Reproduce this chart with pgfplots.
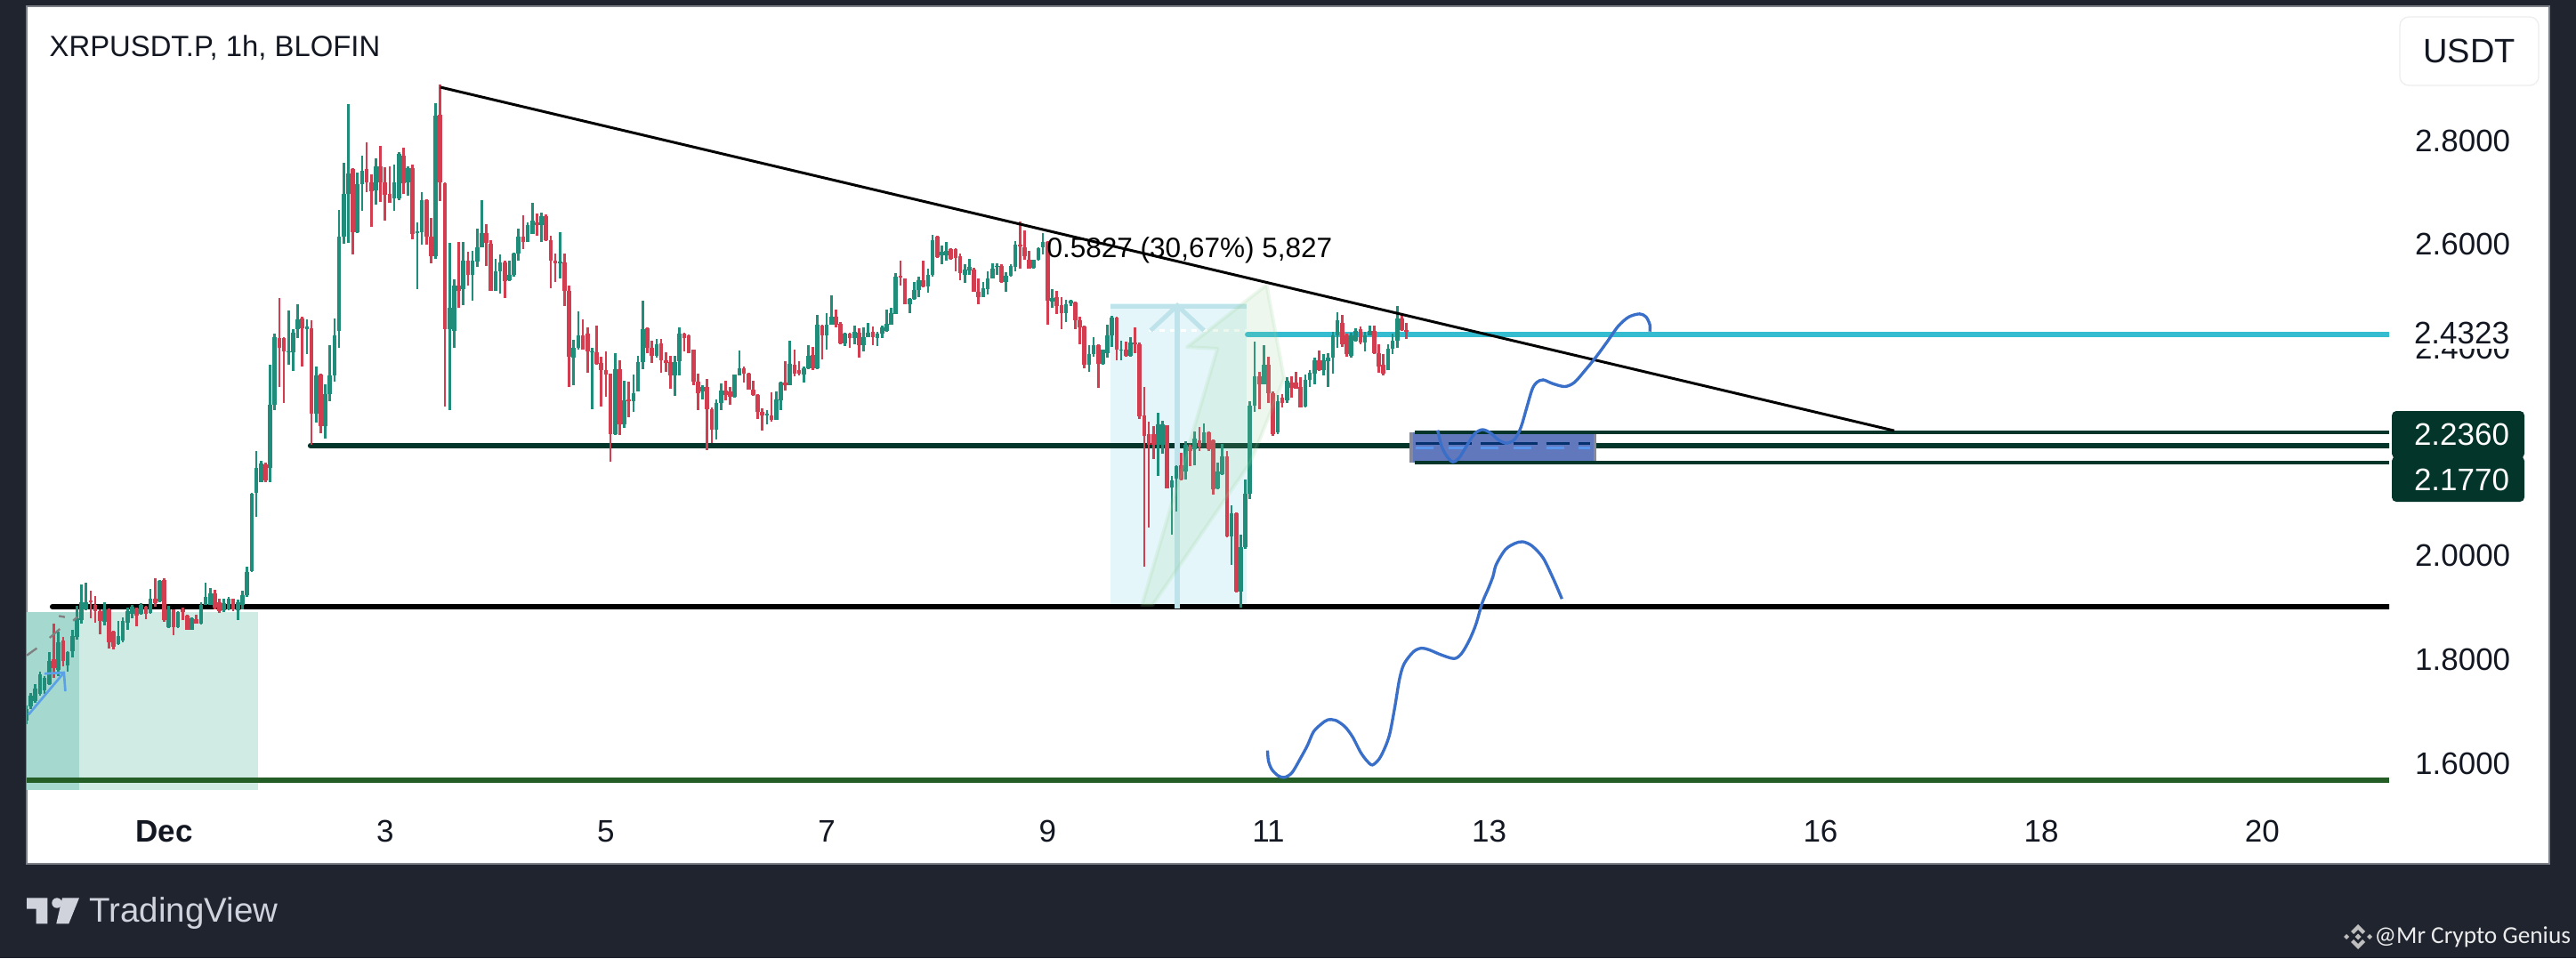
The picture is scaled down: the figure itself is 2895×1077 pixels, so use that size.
\documentclass[border=0pt]{standalone}
\usepackage{fontspec}
\setmainfont{Liberation Sans}
\usepackage{pgfplots}
\usepackage{pgfplotstable}
\pgfplotsset{compat=1.18}
\newfontfamily\wmfont{Carlito}
\definecolor{cg}{RGB}{32,140,122}
\definecolor{cr}{RGB}{210,62,80}
\definecolor{dk}{RGB}{31,36,47}
\definecolor{lv}{RGB}{3,53,42}
\definecolor{txt}{RGB}{19,23,34}
\definecolor{blu}{RGB}{58,111,201}
\definecolor{cya}{RGB}{54,188,208}
\definecolor{edge}{RGB}{125,128,135}
\definecolor{tealA}{RGB}{207,235,227}
\definecolor{tealB}{RGB}{165,216,206}
\definecolor{iceA}{RGB}{228,246,250}
\definecolor{iceB}{RGB}{190,227,234}
\definecolor{sk}{RGB}{150,210,150}
\definecolor{arr}{RGB}{91,161,232}
\definecolor{zone}{RGB}{98,120,188}
\definecolor{zoneE}{RGB}{135,138,150}
\definecolor{navy}{RGB}{5,50,110}
\definecolor{dsh}{RGB}{90,150,235}
\definecolor{btn}{RGB}{238,238,238}
\definecolor{wm}{RGB}{235,235,235}
\definecolor{grn}{RGB}{36,94,38}
\pgfplotstableread{
h lo hi op cl
-30 1.674 1.709 1.681 1.703
-29 1.703 1.733 1.708 1.729
-28 1.714 1.750 1.718 1.743
-27 1.729 1.775 1.732 1.769
-26 1.732 1.766 1.738 1.762
-25 1.749 1.812 1.750 1.795
-24 1.762 1.867 1.798 1.781
-23 1.766 1.852 1.778 1.832
-22 1.785 1.842 1.835 1.795
-21 1.774 1.815 1.786 1.812
-20 1.803 1.855 1.815 1.843
-19 1.837 1.902 1.841 1.878
-18 1.868 1.943 1.875 1.909
-17 1.893 1.946 1.895 1.909
-16 1.878 1.931 1.912 1.909
-15 1.869 1.920 1.903 1.892
-14 1.847 1.895 1.892 1.872
-13 1.864 1.908 1.870 1.895
-12 1.820 1.896 1.895 1.832
-11 1.817 1.853 1.852 1.823
-10 1.826 1.872 1.828 1.843
-9 1.832 1.880 1.835 1.872
-8 1.855 1.898 1.869 1.892
-7 1.878 1.904 1.886 1.900
-6 1.862 1.898 1.896 1.883
-5 1.885 1.906 1.886 1.904
-4 1.876 1.902 1.900 1.886
-3 1.887 1.935 1.888 1.916
-2 1.900 1.955 1.916 1.906
-1 1.909 1.951 1.910 1.950
0 1.870 1.955 1.952 1.875
1 1.859 1.902 1.860 1.895
2 1.845 1.895 1.894 1.860
3 1.859 1.891 1.860 1.889
4 1.875 1.899 1.895 1.889
5 1.855 1.884 1.883 1.855
6 1.855 1.880 1.856 1.878
7 1.867 1.884 1.876 1.868
8 1.866 1.908 1.868 1.903
9 1.903 1.946 1.904 1.918
10 1.903 1.936 1.904 1.926
11 1.895 1.932 1.926 1.898
12 1.888 1.916 1.909 1.891
13 1.889 1.916 1.893 1.906
14 1.893 1.918 1.895 1.916
15 1.892 1.915 1.915 1.895
16 1.875 1.913 1.893 1.909
17 1.895 1.931 1.903 1.923
18 1.919 1.977 1.923 1.966
19 1.967 2.120 1.969 2.118
20 2.073 2.200 2.120 2.167
21 2.139 2.181 2.140 2.176
22 2.139 2.178 2.174 2.143
23 2.140 2.366 2.167 2.289
24 2.279 2.426 2.289 2.419
25 2.323 2.495 2.418 2.398
26 2.292 2.419 2.418 2.392
27 2.366 2.470 2.390 2.392
28 2.354 2.434 2.390 2.428
29 2.418 2.482 2.435 2.453
30 2.362 2.458 2.456 2.436
31 2.386 2.453 2.435 2.439
32 2.212 2.451 2.436 2.272
33 2.255 2.362 2.272 2.346
34 2.234 2.349 2.347 2.248
35 2.224 2.328 2.248 2.309
36 2.295 2.403 2.310 2.345
37 2.333 2.455 2.346 2.423
38 2.398 2.665 2.432 2.612
39 2.600 2.755 2.612 2.695
40 2.600 2.868 2.695 2.735
41 2.579 2.744 2.743 2.622
42 2.619 2.737 2.622 2.714
43 2.662 2.769 2.714 2.740
44 2.699 2.795 2.743 2.717
45 2.632 2.732 2.717 2.700
46 2.675 2.763 2.702 2.749
47 2.679 2.788 2.749 2.717
48 2.644 2.746 2.717 2.693
49 2.678 2.749 2.695 2.678
50 2.663 2.752 2.686 2.717
51 2.683 2.775 2.686 2.772
52 2.695 2.784 2.769 2.715
53 2.692 2.748 2.717 2.744
54 2.608 2.752 2.744 2.618
55 2.512 2.641 2.620 2.623
56 2.598 2.699 2.622 2.683
57 2.598 2.685 2.683 2.612
58 2.562 2.649 2.612 2.575
59 2.570 2.870 2.575 2.846
60 2.682 2.906 2.847 2.717
61 2.286 2.717 2.716 2.435
62 2.279 2.600 2.435 2.475
63 2.398 2.531 2.432 2.518
64 2.475 2.603 2.519 2.509
65 2.481 2.603 2.512 2.567
66 2.519 2.583 2.567 2.540
67 2.490 2.586 2.540 2.566
68 2.555 2.629 2.565 2.592
69 2.592 2.683 2.592 2.619
70 2.557 2.636 2.619 2.600
71 2.508 2.606 2.600 2.508
72 2.508 2.570 2.509 2.546
73 2.504 2.579 2.546 2.563
74 2.494 2.566 2.563 2.527
75 2.528 2.567 2.529 2.540
76 2.536 2.582 2.540 2.580
77 2.567 2.629 2.580 2.612
78 2.589 2.654 2.612 2.603
79 2.602 2.641 2.603 2.635
80 2.618 2.678 2.618 2.643
81 2.615 2.658 2.641 2.635
82 2.602 2.659 2.635 2.652
83 2.604 2.655 2.652 2.606
84 2.514 2.614 2.606 2.566
85 2.526 2.580 2.566 2.562
86 2.533 2.622 2.562 2.565
87 2.480 2.580 2.563 2.508
88 2.323 2.518 2.508 2.381
89 2.326 2.414 2.379 2.398
90 2.395 2.469 2.398 2.423
91 2.395 2.453 2.423 2.395
92 2.350 2.438 2.426 2.392
93 2.280 2.399 2.390 2.392
94 2.366 2.442 2.390 2.367
95 2.286 2.382 2.369 2.355
96 2.304 2.392 2.355 2.348
97 2.179 2.349 2.349 2.233
98 2.230 2.388 2.232 2.358
99 2.230 2.375 2.358 2.252
100 2.245 2.335 2.252 2.298
101 2.265 2.334 2.299 2.295
102 2.276 2.347 2.295 2.312
103 2.314 2.384 2.315 2.372
104 2.358 2.489 2.372 2.435
105 2.389 2.438 2.436 2.399
106 2.370 2.413 2.399 2.383
107 2.380 2.416 2.383 2.406
108 2.351 2.416 2.408 2.375
109 2.352 2.390 2.375 2.369
110 2.320 2.384 2.371 2.345
111 2.306 2.383 2.345 2.372
112 2.346 2.438 2.373 2.426
113 2.392 2.427 2.426 2.418
114 2.389 2.424 2.423 2.389
115 2.326 2.396 2.395 2.333
116 2.278 2.349 2.333 2.312
117 2.299 2.326 2.314 2.323
118 2.201 2.339 2.323 2.280
119 2.215 2.283 2.280 2.241
120 2.222 2.299 2.241 2.292
121 2.278 2.330 2.292 2.317
122 2.298 2.336 2.317 2.308
123 2.289 2.323 2.315 2.305
124 2.303 2.348 2.305 2.347
125 2.346 2.394 2.346 2.360
126 2.331 2.362 2.360 2.349
127 2.318 2.350 2.349 2.318
128 2.306 2.335 2.318 2.308
129 2.261 2.310 2.308 2.275
130 2.240 2.282 2.275 2.268
131 2.251 2.279 2.268 2.272
132 2.256 2.313 2.269 2.259
133 2.260 2.315 2.260 2.299
134 2.278 2.333 2.298 2.332
135 2.316 2.373 2.332 2.326
136 2.326 2.412 2.327 2.368
137 2.343 2.396 2.366 2.349
138 2.346 2.373 2.355 2.349
139 2.331 2.362 2.348 2.360
140 2.358 2.403 2.359 2.383
141 2.356 2.401 2.385 2.359
142 2.358 2.462 2.359 2.443
143 2.376 2.443 2.442 2.423
144 2.395 2.465 2.423 2.443
145 2.443 2.499 2.444 2.458
146 2.438 2.472 2.458 2.443
147 2.406 2.449 2.445 2.408
148 2.402 2.428 2.408 2.426
149 2.399 2.428 2.426 2.418
150 2.406 2.442 2.418 2.429
151 2.380 2.436 2.428 2.403
152 2.391 2.438 2.403 2.420
153 2.420 2.446 2.420 2.428
154 2.403 2.439 2.430 2.420
155 2.402 2.429 2.418 2.426
156 2.418 2.442 2.426 2.438
157 2.429 2.472 2.432 2.445
158 2.443 2.476 2.444 2.466
159 2.463 2.543 2.464 2.536
160 2.519 2.567 2.537 2.535
161 2.482 2.533 2.532 2.483
162 2.466 2.495 2.483 2.493
163 2.492 2.526 2.493 2.510
164 2.496 2.535 2.510 2.529
165 2.515 2.567 2.529 2.517
166 2.505 2.551 2.517 2.540
167 2.535 2.617 2.539 2.606
168 2.571 2.614 2.613 2.573
169 2.560 2.596 2.576 2.583
170 2.567 2.602 2.577 2.586
171 2.568 2.590 2.589 2.570
172 2.546 2.590 2.589 2.572
173 2.529 2.581 2.575 2.542
174 2.524 2.559 2.540 2.550
175 2.540 2.570 2.548 2.555
176 2.506 2.553 2.550 2.507
177 2.482 2.533 2.507 2.497
178 2.496 2.526 2.497 2.513
179 2.502 2.546 2.512 2.533
180 2.532 2.562 2.533 2.552
181 2.540 2.562 2.555 2.557
182 2.524 2.559 2.557 2.525
183 2.507 2.544 2.525 2.537
184 2.535 2.560 2.537 2.557
185 2.546 2.605 2.555 2.597
186 2.552 2.642 2.597 2.594
187 2.569 2.624 2.592 2.575
188 2.552 2.586 2.569 2.552
189 2.552 2.569 2.553 2.569
190 2.567 2.593 2.569 2.590
191 2.579 2.619 2.592 2.603
192 2.444 2.604 2.603 2.489
193 2.476 2.511 2.487 2.495
194 2.463 2.509 2.497 2.480
195 2.434 2.497 2.481 2.466
196 2.449 2.492 2.466 2.483
197 2.480 2.492 2.485 2.490
198 2.434 2.487 2.486 2.451
199 2.405 2.459 2.452 2.438
200 2.360 2.441 2.440 2.366
201 2.352 2.403 2.366 2.386
202 2.382 2.420 2.386 2.403
203 2.322 2.405 2.403 2.368
204 2.366 2.396 2.368 2.395
205 2.380 2.444 2.389 2.423
206 2.400 2.460 2.423 2.457
207 2.374 2.459 2.457 2.395
208 2.374 2.412 2.394 2.396
209 2.382 2.410 2.395 2.384
210 2.382 2.419 2.384 2.409
211 2.389 2.438 2.409 2.406
212 2.262 2.409 2.406 2.266
213 1.977 2.323 2.269 2.229
214 2.052 2.256 2.232 2.212
215 2.185 2.247 2.232 2.212
216 2.152 2.273 2.211 2.252
217 2.195 2.258 2.212 2.252
218 2.127 2.249 2.249 2.127
219 2.038 2.152 2.129 2.143
220 2.083 2.172 2.146 2.171
221 2.143 2.196 2.172 2.145
222 2.145 2.219 2.161 2.212
223 2.171 2.212 2.209 2.200
224 2.173 2.238 2.203 2.223
225 2.199 2.246 2.220 2.209
226 2.215 2.253 2.216 2.235
227 2.200 2.238 2.236 2.203
228 2.116 2.222 2.220 2.126
229 2.126 2.178 2.127 2.161
230 2.154 2.213 2.155 2.190
231 2.034 2.200 2.190 2.035
232 1.981 2.095 2.036 2.080
233 1.927 2.081 2.080 1.929
234 1.898 2.039 1.929 2.015
235 2.012 2.145 2.015 2.118
236 2.108 2.295 2.118 2.287
237 2.276 2.410 2.287 2.343
238 2.280 2.352 2.343 2.329
239 2.329 2.403 2.329 2.366
240 2.292 2.381 2.366 2.312
241 2.229 2.315 2.312 2.232
242 2.233 2.308 2.235 2.295
243 2.284 2.309 2.303 2.292
244 2.293 2.342 2.298 2.335
245 2.302 2.344 2.331 2.322
246 2.320 2.352 2.332 2.320
247 2.283 2.342 2.323 2.284
248 2.283 2.348 2.286 2.337
249 2.323 2.356 2.337 2.350
250 2.329 2.379 2.349 2.375
251 2.354 2.393 2.375 2.356
252 2.346 2.386 2.355 2.375
253 2.323 2.389 2.373 2.380
254 2.349 2.429 2.379 2.423
255 2.398 2.468 2.423 2.452
256 2.400 2.462 2.446 2.406
257 2.382 2.426 2.423 2.386
258 2.379 2.427 2.383 2.423
259 2.411 2.436 2.412 2.432
260 2.405 2.439 2.435 2.409
261 2.391 2.429 2.409 2.423
262 2.423 2.441 2.423 2.432
263 2.386 2.441 2.432 2.389
264 2.350 2.406 2.389 2.363
265 2.346 2.386 2.366 2.349
266 2.355 2.406 2.356 2.397
267 2.387 2.426 2.397 2.412
268 2.398 2.480 2.412 2.456
269 2.432 2.464 2.456 2.433
270 2.415 2.446 2.433 2.430
}\cdata
\pgfplotsset{
 candleg/.style={forget plot,draw=none,no markers,
  error bars/.cd,y dir=both,y explicit,error mark=none,
  error bar style={line width=#1,color=cg,line cap=butt}},
 candler/.style={forget plot,draw=none,no markers,
  error bars/.cd,y dir=both,y explicit,error mark=none,
  error bar style={line width=#1,color=cr,line cap=butt}},
}
\begin{document}
\begin{tikzpicture}
\begin{scope}[x=0.3pt,y=-0.3pt]
\fill[dk] (0,0) rectangle (2895,1077);
\filldraw[fill=white,draw=edge,line width=0.4pt] (30,7) rectangle (2865,971);
\end{scope}
\begin{axis}[
 at={(9pt,-2.1pt)},anchor=north west,
 scale only axis,width=796.5pt,height=269.4pt,
 xmin=-29.9,xmax=483.6,ymin=1.5177,ymax=3.0567,
 axis line style={draw=none},major tick length=0pt,
 xtick={0,48,96,144,192,240,288,360,408,456},
 xticklabels={\textbf{Dec},3,5,7,9,11,13,16,18,20},
 ytick={1.6,1.8,2.0,2.4,2.6,2.8},
 yticklabel pos=right,
 y tick label style={yshift=-0.4pt,/pgf/number format/.cd,fixed,fixed zerofill,precision=4,assume math mode=true},
 tick label style={font=\fontsize{10.5pt}{12pt}\selectfont,text=txt},
 xticklabel shift=1.6pt,
 yticklabel shift=5.2pt,
 clip=true,
]
% position boxes
\addplot[fill=tealA,draw=none,forget plot] coordinates {(-29.9,1.890)(20.4,1.890)(20.4,1.547)(-29.9,1.547)} -- cycle;
\addplot[fill=tealB,draw=none,forget plot] coordinates {(-29.9,1.890)(-18.4,1.890)(-18.4,1.547)(-29.9,1.547)} -- cycle;
\addplot[fill=iceA,draw=none,forget plot] coordinates {(205.7,2.485)(235.3,2.485)(235.3,1.896)(205.7,1.896)} -- cycle;
% horizontal levels
\addplot[grn,line width=1.8pt,forget plot] coordinates {(-29.9,1.566)(483.6,1.566)};
\addplot[black,line width=1.8pt,line cap=round,forget plot] coordinates {(-24.3,1.9)(483.6,1.9)};
\addplot[lv,line width=1.9pt,line cap=round,forget plot] coordinates {(31.8,2.21)(483.6,2.21)};
\addplot[cya,line width=1.9pt,line cap=round,forget plot] coordinates {(235.5,2.424)(483.6,2.424)};
\addplot[white,line width=0.7pt,dash pattern=on 1.8pt off 1.8pt,forget plot] coordinates {(214,2.4323)(483.6,2.4323)};
\addplot[iceB,line width=1.5pt,forget plot] coordinates {(205.7,2.478)(235.3,2.478)};
\addplot[iceB,line width=1.6pt,forget plot] coordinates {(220.2,1.896)(220.2,2.480)};
\addplot[iceB,line width=1.5pt,forget plot] coordinates {(214.4,2.432)(220.2,2.480)(226,2.432)};
% candles
\addplot[candleg=0.8pt] table[x=h,y expr={\thisrow{cl}>=\thisrow{op} ? (\thisrow{lo}+\thisrow{hi})/2 : nan},y error expr={(\thisrow{hi}-\thisrow{lo})/2}] {\cdata};
\addplot[candleg=1.4pt] table[x=h,y expr={\thisrow{cl}>=\thisrow{op} ? (\thisrow{op}+\thisrow{cl})/2 : nan},y error expr={abs(\thisrow{cl}-\thisrow{op})/2}] {\cdata};
\addplot[candler=0.8pt] table[x=h,y expr={\thisrow{cl}<\thisrow{op} ? (\thisrow{lo}+\thisrow{hi})/2 : nan},y error expr={(\thisrow{hi}-\thisrow{lo})/2}] {\cdata};
\addplot[candler=1.4pt] table[x=h,y expr={\thisrow{cl}<\thisrow{op} ? (\thisrow{op}+\thisrow{cl})/2 : nan},y error expr={abs(\thisrow{cl}-\thisrow{op})/2}] {\cdata};
% green sketch arrow
\addplot[fill=sk,fill opacity=0.16,draw=sk,draw opacity=0.16,line width=1.2pt,line join=round,forget plot] coordinates {(212.5,1.903)(228.9,2.397)(222.3,2.400)(239.6,2.520)(243.4,2.340)(236.1,2.178)(214.8,1.903)} -- cycle;
% small arrow and grey strokes at the left
\addplot[arr,line width=0.8pt,forget plot] coordinates {(-29.5,1.692)(-21.8,1.773)};
\addplot[arr,line width=0.8pt,forget plot] coordinates {(-26,1.771)(-21.8,1.773)(-21.5,1.737)};
\addplot[gray,line width=0.7pt,forget plot] coordinates {(-29.9,1.806)(-27.7,1.820)};
\addplot[gray,line width=0.7pt,forget plot] coordinates {(-24.9,1.840)(-22.7,1.857)};
\addplot[gray,line width=0.7pt,forget plot] coordinates {(-22.9,1.882)(-21.6,1.880)};
\addplot[gray,line width=0.7pt,forget plot] coordinates {(-19.8,1.873)(-18.9,1.880)};
% blue zone
\addplot[fill=zone,draw=none,forget plot] coordinates {(271,2.236)(311,2.236)(311,2.177)(271,2.177)} -- cycle;
\addplot[zoneE,line width=1.1pt,forget plot] coordinates {(271,2.236)(271,2.177)};
\addplot[zoneE,line width=1.1pt,forget plot] coordinates {(311,2.236)(311,2.177)};
\addplot[lv,line width=1.1pt,forget plot] coordinates {(271.8,2.236)(483.6,2.236)};
\addplot[lv,line width=1.1pt,forget plot] coordinates {(271.8,2.177)(483.6,2.177)};
\addplot[navy,line width=1pt,dash pattern=on 8pt off 3pt,forget plot] coordinates {(272,2.214)(310,2.214)};
\addplot[dsh,line width=0.9pt,dash pattern=on 6pt off 5pt,forget plot] coordinates {(272,2.205)(310,2.205)};
% trend line
\addplot[black,line width=0.9pt,forget plot] coordinates {(60,2.9008)(376,2.239)};
% hand-drawn paths
\addplot[blu,line width=1pt,smooth,forget plot] coordinates {(239.8,1.623)(240.0,1.603)(240.7,1.587)(242.0,1.575)(243.4,1.571)(245.1,1.580)(247.1,1.610)(248.5,1.633)(249.8,1.659)(251.5,1.674)(252.9,1.682)(254.6,1.681)(256.6,1.669)(258.3,1.649)(260.0,1.620)(261.4,1.603)(262.6,1.595)(264.1,1.607)(265.4,1.630)(266.4,1.656)(267.5,1.708)(268.5,1.761)(269.5,1.790)(271.5,1.813)(273.2,1.820)(274.9,1.817)(277.6,1.807)(280.4,1.800)(282.0,1.810)(283.7,1.836)(285.1,1.866)(286.5,1.908)(287.8,1.935)(288.8,1.958)(289.5,1.981)(291.5,2.010)(293.6,2.022)(295.3,2.025)(297.3,2.017)(299.7,1.994)(301.7,1.958)(302.7,1.938)(303.8,1.915)};
\addplot[blu,line width=1pt,smooth,forget plot] coordinates {(276.8,2.240)(277.6,2.210)(278.7,2.191)(280.0,2.179)(281.4,2.186)(283.1,2.210)(284.8,2.233)(286.5,2.241)(288.2,2.235)(290.2,2.220)(291.9,2.215)(293.6,2.223)(294.9,2.246)(296.0,2.279)(297.3,2.318)(298.3,2.332)(299.7,2.337)(301.7,2.330)(304.4,2.324)(306.5,2.332)(308.8,2.355)(311.2,2.381)(313.6,2.410)(316.0,2.440)(318.3,2.458)(320.7,2.464)(322.1,2.458)(322.9,2.443)(322.9,2.430)};
\end{axis}
\begin{scope}[x=0.3pt,y=-0.3pt]
\node[anchor=west,inner sep=0pt,text=txt,font=\fontsize{9.85pt}{11pt}\selectfont] at (55,54) {XRPUSDT.P, 1h, BLOFIN};
\node[anchor=west,inner sep=0pt,text=black,font=\fontsize{9.45pt}{11pt}\selectfont] at (1176,281) {0.5827 (30,67\%) 5,827};
% USDT button
\filldraw[draw=btn,fill=white,line width=0.4pt,rounded corners=3pt] (2697,19) rectangle (2853,96);
\node[text=txt,inner sep=0pt,font=\fontsize{11.4pt}{13pt}\selectfont] at (2775,57) {USDT};
% last value labels
\fill[white] (2700,353) rectangle (2835,392);
\node[text=txt,inner sep=0pt,font=\fontsize{10.5pt}{12pt}\selectfont] at (2766.5,374) {2.4323};
\fill[lv,rounded corners=1.5pt] (2688,462) rectangle (2837,515);
\fill[lv,rounded corners=1.5pt] (2688,513) rectangle (2837,564);
\node[text=white,inner sep=0pt,font=\fontsize{10.5pt}{12pt}\selectfont] at (2766.5,488) {2.2360};
\node[text=white,inner sep=0pt,font=\fontsize{10.5pt}{12pt}\selectfont] at (2766.5,539) {2.1770};
% TradingView logo
\definecolor{lg}{RGB}{208,211,220}
\fill[lg] (30,1009.3)--(53.3,1009.3)--(53.3,1038.3)--(40.7,1038.3)--(40.7,1021.7)--(30,1021.7)--cycle;
\fill[lg] (64,1015) circle[radius=5.7];
\fill[lg] (70,1009.3)--(89,1009.3)--(77.3,1038.3)--(63.3,1038.3)--cycle;
\node[anchor=west,inner sep=0pt,text=lg,font=\fontsize{11.55pt}{13pt}\selectfont] at (100,1027) {TradingView};
% Binance mark
\definecolor{bg}{RGB}{190,190,190}
\fill[bg] (2650,1049.5)--(2653.5,1053)--(2650,1056.5)--(2646.5,1053)--cycle;
\fill[bg] (2637,1050)--(2640,1053)--(2637,1056)--(2634,1053)--cycle;
\fill[bg] (2663,1050)--(2666,1053)--(2663,1056)--(2660,1053)--cycle;
\fill[bg] (2650,1039)--(2658,1047)--(2655,1050)--(2650,1045)--(2645,1050)--(2642,1047)--cycle;
\fill[bg] (2650,1067)--(2658,1059)--(2655,1056)--(2650,1061)--(2645,1056)--(2642,1059)--cycle;
\node[anchor=west,inner sep=0pt,text=wm,font=\wmfont\fontsize{8.2pt}{10pt}\selectfont] at (2668,1053) {@Mr Crypto Genius};
\end{scope}
\end{tikzpicture}
\end{document}
